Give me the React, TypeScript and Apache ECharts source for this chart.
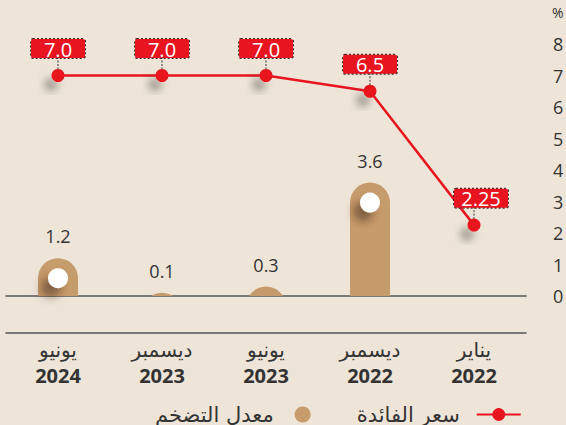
import React, { useEffect, useRef } from "react";
import * as echarts from "echarts";

const months = ["يناير", "ديسمبر", "يونيو", "ديسمبر", "يونيو"];
const years = ["2022", "2022", "2023", "2023", "2024"];
const categories = months.map((m, i) => `${m}|${years[i]}`);
const interestRate = [2.25, 6.5, 7.0, 7.0, 7.0];
const interestLabels = ["2.25", "6.5", "7.0", "7.0", "7.0"];
const inflation: (number | null)[] = [null, 3.6, 0.3, 0.1, 1.2];
const yMin = 0;
const yMax = 8;
const yInterval = 1;
const rateName = "سعر الفائدة";
const inflationName = "معدل التضخم";

const RED = "#e8141f";
const BAR = "#c79c6c";
const TEXT = "#333333";
const BG = "#eee5d8";
const NUM_FONT = "'Open Sans', 'DejaVu Sans', sans-serif";
const AR_FONT = "'DejaVu Sans', sans-serif";

export default function App() {
  const ref = useRef<HTMLDivElement>(null);
  useEffect(() => {
    if (!ref.current) return;
    const chart = echarts.init(ref.current, undefined, { renderer: "svg" });
    const barData = inflation
      .map((v, i) => (v == null ? null : [i, v]))
      .filter((d) => d !== null) as number[][];
    const rateData = interestRate.map((v, i) =>
      i === 0 ? { value: v, label: { offset: [7, 0] } } : v
    );
    const option: any = {
      animation: false,
      backgroundColor: BG,
      grid: {
        left: 6,
        right: 40,
        top: 44,
        bottom: 129,
        containLabel: false,
        outerBoundsMode: "none",
      },
      legend: {
        left: 150,
        top: 399,
        align: "right",
        itemWidth: 44,
        itemHeight: 16,
        itemGap: 46,
        textStyle: { fontSize: 21, color: TEXT, fontFamily: AR_FONT, padding: [0, 2, 0, 0] },
        data: [
          { name: inflationName, icon: "circle" },
          { name: rateName, textStyle: { fontSize: 21, color: TEXT, fontFamily: AR_FONT, padding: [0, 12, 0, 0] } },
        ],
      },
      graphic: [
        {
          type: "text",
          left: 552,
          top: 5,
          style: { text: "%", fontSize: 14, fill: TEXT, fontFamily: NUM_FONT },
        },
      ],
      xAxis: [
        {
          type: "category",
          data: categories,
          inverse: true,
          boundaryGap: true,
          axisLine: { show: true, lineStyle: { color: "#555", width: 1.5 } },
          axisTick: { show: false },
          axisLabel: { show: false },
        },
        {
          type: "category",
          data: categories,
          inverse: true,
          position: "bottom",
          offset: 37,
          boundaryGap: true,
          axisLine: { show: true, lineStyle: { color: "#555", width: 1.5 } },
          axisTick: { show: false },
          axisLabel: {
            margin: 4,
            formatter: (v: string) => {
              const [m, y] = v.split("|");
              return `{m|${m}}\n{y|${y}}`;
            },
            rich: {
              m: { fontSize: 20, fontFamily: AR_FONT, color: TEXT, lineHeight: 26 },
              y: { fontSize: 20, fontFamily: NUM_FONT, fontWeight: "bold", color: TEXT, lineHeight: 25 },
            },
          },
        },
      ],
      yAxis: {
        type: "value",
        position: "right",
        min: yMin,
        max: yMax,
        interval: yInterval,
        axisLine: { show: false },
        axisTick: { show: false },
        splitLine: { show: false },
        axisLabel: { margin: 27, fontSize: 18, color: TEXT, fontFamily: NUM_FONT },
      },
      series: [
        {
          name: inflationName,
          type: "custom",
          xAxisIndex: 0,
          itemStyle: { color: BAR },
          encode: { x: 0, y: 1 },
          data: barData,
          renderItem: (params: any, api: any) => {
            const idx = api.value(0);
            const v = api.value(1);
            const top = api.coord([idx, v]);
            const base = api.coord([idx, 0]);
            const cx = top[0];
            const ty = top[1];
            const by = base[1];
            const w = 40;
            const r = 20;
            const h = by - ty;
            const children: any[] = [
              {
                type: "rect",
                shape: { x: cx - w / 2, y: ty, width: w, height: h + r * 2, r },
                style: { fill: BAR },
                clipPath: {
                  type: "rect",
                  shape: { x: cx - w, y: ty - 5, width: w * 2, height: h + 5 },
                },
              },
            ];
            if (h > 30) {
              children.push({
                type: "circle",
                shape: { cx, cy: ty + r, r: 10 },
                style: {
                  fill: "#ffffff",
                  shadowColor: "rgba(60,35,10,0.5)",
                  shadowBlur: 8,
                  shadowOffsetX: -7,
                  shadowOffsetY: 9,
                },
              });
            }
            children.push({
              type: "text",
              x: cx,
              y: ty - 22,
              style: {
                text: String(v),
                fill: TEXT,
                fontSize: 18,
                fontFamily: NUM_FONT,
                align: "center",
                verticalAlign: "middle",
              },
            });
            return { type: "group", children };
          },
          z: 2,
        },
        {
          type: "custom",
          xAxisIndex: 0,
          encode: { x: 0, y: 1 },
          data: interestRate.map((v, i) => [i, v]),
          renderItem: (params: any, api: any) => {
            const p = api.coord([api.value(0), api.value(1)]);
            return {
              type: "line",
              shape: { x1: p[0], y1: p[1] - 6, x2: p[0], y2: p[1] - 18 },
              style: { stroke: "#333", lineWidth: 1, lineDash: [2, 1.5] },
            };
          },
          z: 3,
        },
        {
          name: rateName,
          type: "line",
          xAxisIndex: 0,
          data: rateData,
          symbol: "circle",
          symbolSize: 13,
          lineStyle: { color: RED, width: 2.5 },
          itemStyle: {
            color: RED,
            shadowColor: "rgba(0,0,0,0.35)",
            shadowBlur: 8,
            shadowOffsetX: -7,
            shadowOffsetY: 9,
          },
          label: {
            show: true,
            position: "top",
            distance: 11,
            formatter: (p: any) => interestLabels[p.dataIndex],
            color: "#fff",
            fontSize: 20,
            fontFamily: NUM_FONT,
            backgroundColor: RED,
            borderColor: "#333",
            borderWidth: 1,
            borderType: "dotted",
            borderRadius: 2,
            width: 42,
            align: "center",
            padding: [1, 6, 0, 6],
            lineHeight: 18,
          },
          z: 4,
        },
      ],
    };
    chart.setOption(option);
    return () => chart.dispose();
  }, []);
  return (
    <div
      ref={ref}
      style={{ position: "fixed", left: 0, top: 0, width: 566, height: 425, background: BG }}
    />
  );
}
